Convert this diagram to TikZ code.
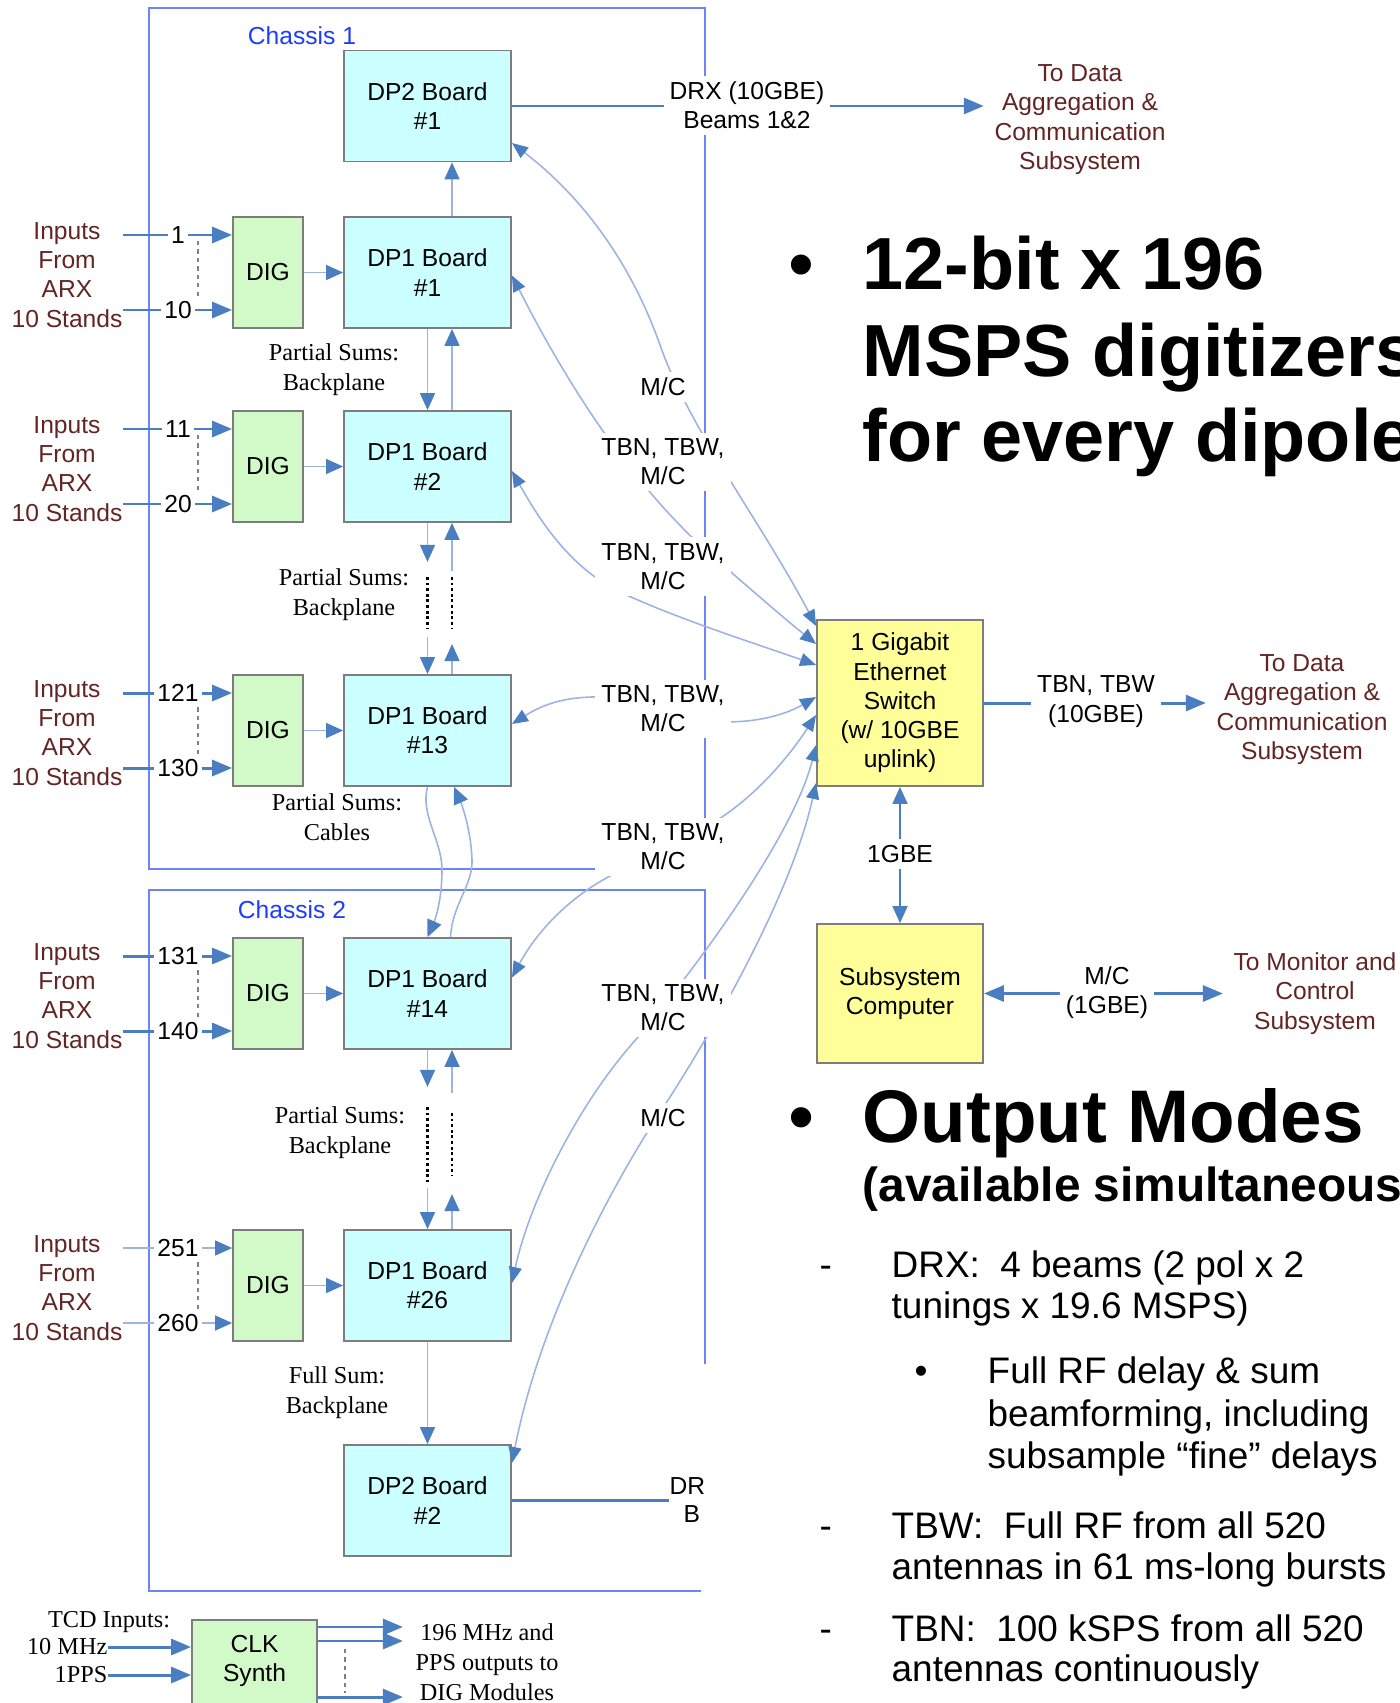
\documentclass[tikz,border=0pt]{standalone}
\usepackage{fontspec}
\setmainfont{Liberation Sans}
\newfontfamily\timesdp{Liberation Serif}
\usetikzlibrary{arrows.meta}
\definecolor{dpcyan}{RGB}{204,255,255}
\definecolor{diggreen}{RGB}{210,250,200}
\definecolor{swyellow}{RGB}{255,255,153}
\definecolor{boxgray}{RGB}{125,125,125}
\definecolor{arrowblue}{RGB}{74,126,193}
\definecolor{wireblue}{RGB}{155,180,226}
\definecolor{chasline}{RGB}{110,130,250}
\definecolor{chastxt}{RGB}{30,60,255}
\definecolor{arxred}{RGB}{99,37,35}
\newcommand\lblsize{\fontsize{7}{8.3}\selectfont}
\newcommand\sersize{\timesdp\fontsize{6.9}{8.5}\selectfont}

\begin{document}
\begin{tikzpicture}[x=0.01cm,y=-0.01cm,font=\lblsize,
  board/.style={draw=boxgray,line width=0.5pt,fill=dpcyan,minimum width=1.67cm,minimum height=1.11cm,align=center,inner sep=0},
  digbox/.style={board,fill=diggreen,minimum width=0.7cm},
  ylbox/.style={board,fill=swyellow,minimum width=1.66cm},
  lbl/.style={align=center,fill=white,inner sep=0.6mm},
  numlbl/.style={fill=white,inner sep=0.3mm},
  redtxt/.style={align=center,text=arxred,inner sep=0},
  sertxt/.style={font=\sersize,align=center,inner sep=0},
  thickline/.style={draw=arrowblue,line width=0.85pt},
  thickarrow/.style={thickline,-{Triangle[length=2mm,width=1.6mm]}},
  thickboth/.style={thickline,{Triangle[length=2mm,width=1.6mm]}-{Triangle[length=2mm,width=1.6mm]}},
  thinarrow/.style={draw=wireblue,line width=0.45pt,-{Triangle[length=1.7mm,width=1.5mm,color=arrowblue]}},
  wire/.style={draw=wireblue,line width=0.45pt,{Triangle[length=1.6mm,width=1.3mm,color=arrowblue]}-{Triangle[length=1.6mm,width=1.3mm,color=arrowblue]}},
  chassis/.style={draw=chasline,line width=0.6pt},
  dotline/.style={line width=0.7pt,dash pattern=on 0.8pt off 0.8pt},
  grayline/.style={draw=gray,line width=0.4pt,dash pattern=on 1.2pt off 1.2pt},
  headtxt/.style={font=\fontsize{21}{24}\selectfont\bfseries,anchor=base west,inner sep=0},
  bodytxt/.style={font=\fontsize{10.5}{12}\selectfont,anchor=base west,inner sep=0}]

\useasboundingbox (0,0) rectangle (1400,1703);

% chassis outlines
\draw[chassis] (149,8) rectangle (705,869);
\draw[chassis] (705,1364) -- (705,890) -- (149,890) -- (149,1591) -- (701,1591);
\node[text=chastxt] (ch1) at (302,36) {Chassis 1};
\node[text=chastxt] (ch2) at (292,910) {Chassis 2};

\node[board] (dpt1) at (427.5,106) {DP2 Board\\\#1};
\node[board] (dpt2) at (427.5,1500.5) {DP2 Board\\\#2};
\node[ylbox,minimum height=1.66cm] (sw) at (900,703) {1 Gigabit\\Ethernet\\Switch\\(w/ 10GBE\\uplink)};
\node[ylbox,minimum height=1.39cm] (pc) at (900,993.5) {Subsystem\\Computer};

% one DIG + DP1 row per group of 10 stands
\foreach \n/\yy/\ta/\tb/\st in {1/272.5/1/10/thickarrow,2/466.5/11/20/thickarrow,13/730.5/121/130/thickarrow,14/993.5/131/140/thickarrow,26/1285.5/251/260/thinarrow}{
  \node[digbox] (dig\n) at (268,\yy) {DIG};
  \node[board] (dpo\n) at (427.5,\yy) {DP1 Board\\\#\n};
  \node[redtxt] (arx\n) at (67,\yy+2.5) {Inputs\\From\\ARX\\10 Stands};
  \draw[\st] (arx\n.east |- 0,\yy-37.5) -- (dig\n.west |- 0,\yy-37.5);
  \draw[\st] (arx\n.east |- 0,\yy+37.5) -- (dig\n.west |- 0,\yy+37.5);
  \draw[grayline] (198,\yy-31.5) -- (198,\yy+23.5);
  \node[numlbl] (na\n) at (178,\yy-37.5) {\ta};
  \node[numlbl] (nb\n) at (178,\yy+37.5) {\tb};
  \draw[thinarrow] (dig\n) -- (dpo\n);
}

% partial sums
\draw[thinarrow] ([xshift=2.45mm]dpo1.north) -- ([xshift=2.45mm]dpt1.south);
\draw[thinarrow] (dpo1.south) -- (dpo2.north);
\draw[thinarrow] ([xshift=2.45mm]dpo2.north) -- ([xshift=2.45mm]dpo1.south);
\draw[thinarrow] (dpo2.south) -- ++(0,39);
\draw[thinarrow] ([xshift=2.45mm,yshift=-4.8mm]dpo2.south) -- ([xshift=2.45mm]dpo2.south);
\draw[dotline] ([yshift=-5.4mm]dpo2.south) -- ++(0,51);
\draw[dotline] ([xshift=2.45mm,yshift=-5.4mm]dpo2.south) -- ++(0,51);
\draw[thinarrow] ([yshift=3.7mm]dpo13.north) -- (dpo13.north);
\draw[thinarrow] ([xshift=2.45mm]dpo13.north) -- ++(0,-30);
\draw[thinarrow] (dpo13.south) .. controls (420,815) and (442,840) .. (442,870) .. controls (442,900) and (435,920) .. (dpo14.north);
\draw[thinarrow] ([xshift=2.3mm]dpo14.north) .. controls (452,905) and (473,885) .. (472,860) .. controls (471,830) and (462,805) .. ([xshift=2.65mm]dpo13.south);
\draw[thinarrow] (dpo14.south) -- ++(0,37);
\draw[thinarrow] ([xshift=2.45mm,yshift=-4.3mm]dpo14.south) -- ([xshift=2.45mm]dpo14.south);
\draw[dotline] ([yshift=-5.7mm]dpo14.south) -- ++(0,75);
\draw[dotline] ([xshift=2.45mm,yshift=-6.3mm]dpo14.south) -- ++(0,63);
\draw[thinarrow] ([yshift=4.1mm]dpo26.north) -- (dpo26.north);
\draw[thinarrow] ([xshift=2.45mm]dpo26.north) -- ++(0,-35);
\draw[thinarrow] (dpo26) -- (dpt2);

\node[sertxt] (ps1) at (334,370) {Partial Sums:\\Backplane};
\node[sertxt] (ps2) at (344,594.5) {Partial Sums:\\Backplane};
\node[sertxt] (ps3) at (337,817) {Partial Sums:\\Cables};
\node[sertxt] (ps4) at (340,1133) {Partial Sums:\\Backplane};
\node[sertxt] (fs) at (337,1393) {Full Sum:\\Backplane};

% links to the switch
\draw[wire] ([yshift=-3.7mm]dpt1.east) .. controls (580,195) and (630,260) .. (660,345) .. controls (690,430) and (760,520) .. ([yshift=7.7mm]sw.west);
\draw[wire] ([yshift=-0.3mm]dpo1.east) .. controls (560,370) and (620,470) .. (700,545) .. controls (740,580) and (780,615) .. ([yshift=5.9mm]sw.west);
\draw[wire] ([yshift=-0.45mm]dpo2.east) .. controls (545,530) and (575,570) .. (620,592) .. controls (680,620) and (760,645) .. ([yshift=3.8mm]sw.west);
\draw[wire] ([yshift=0.65mm]dpo13.east) .. controls (550,700) and (575,696) .. (610,697) .. controls (660,698) and (680,722) .. (725,722) .. controls (765,722) and (790,712) .. ([yshift=0.6mm]sw.west);
\draw[wire] ([yshift=1.6mm]dpo14.east) .. controls (535,935) and (565,900) .. (610,876) .. controls (650,855) and (690,838) .. (722,817) .. controls (762,790) and (792,752) .. ([yshift=-1.2mm]sw.west);
\draw[wire] ([yshift=0.25mm]dpo26.east) .. controls (530,1200) and (580,1100) .. (640,1035) .. controls (710,950) and (795,830) .. ([yshift=-4.2mm]sw.west);
\draw[wire] ([yshift=3.75mm]dpt2.east) .. controls (540,1320) and (610,1190) .. (655,1120) .. controls (705,1045) and (790,900) .. ([yshift=-8mm]sw.west);

\node[lbl] (mc1) at (663,387) {M/C};
\foreach \k/\yy in {1/462,2/566.5,3/709,4/847,5/1008}
  \node[lbl] (tb\k) at (663,\yy) {TBN, TBW,\\M/C};
\node[lbl] (mc2) at (663,1118) {M/C};

% outputs
\node[redtxt,inner sep=1mm] (todata1) at (1080,119.5) {To Data\\Aggregation \&\\Communication\\Subsystem};
\node[redtxt,inner sep=1mm] (todata2) at (1302,709.5) {To Data\\Aggregation \&\\Communication\\Subsystem};
\node[redtxt,inner sep=1mm] (tomc) at (1315,993.5) {To Monitor and\\Control\\Subsystem};
\draw[thickarrow] (dpt1.east) -- (dpt1.east -| todata1.west);
\node[lbl] (drx1) at (747,105.5) {DRX (10GBE)\\Beams 1\&2};
\node[anchor=west,inner sep=0] (drx2a) at (669,1486) {DR};
\node[anchor=west,inner sep=0] (drx2b) at (683,1514) {B};
\draw[thickline] (dpt2.east) -- (drx2a.west |- dpt2.east);
\draw[thickarrow] (sw.east) -- (sw.east -| todata2.west);
\node[lbl] (tbout) at (1096,701.5) {TBN, TBW\\(10GBE)};
\draw[draw=arrowblue,line width=0.5pt,{Triangle[length=1.7mm,width=1.5mm]}-{Triangle[length=1.7mm,width=1.5mm]}] (sw.south) -- (pc.north);
\node[lbl] (gbe) at (900,854) {1GBE};
\draw[thickboth] (pc.east) -- (pc.east -| tomc.west);
\node[lbl] (mcout) at (1107,993) {M/C\\(1GBE)};

% clock synthesizer
\node[digbox,minimum width=1.25cm,minimum height=1cm] (clk) at (254.5,1670) {};
\node (clklbl) at (254.5,1661) [align=center] {CLK\\Synth};
\node[sertxt] (tcd) at (109,1622) {TCD Inputs:};
\node[sertxt,anchor=east] (tenmhz) at (108,1647) {10 MHz};
\node[sertxt,anchor=east] (pps) at (108,1675) {1PPS};
\draw[thickarrow] (tenmhz.east) -- (clk.west |- tenmhz.east);
\draw[thickarrow] (pps.east) -- (clk.west |- pps.east);
\draw[thickarrow] ([yshift=4.3mm]clk.east) -- ++(85,0);
\draw[thickarrow] ([yshift=2.9mm]clk.east) -- ++(85,0);
\draw[thickarrow] ([yshift=-2.7mm]clk.east) -- ++(85,0);
\draw[grayline] (345,1649) -- (345,1693);
\node[sertxt] (clkout) at (487,1662) {196 MHz and\\PPS outputs to\\DIG Modules};

% slide text
\node[headtxt,font=\fontsize{21}{24}\selectfont] (hb1) at (788,290) {•};
\node[headtxt] (hd1) at (862,290) {12-bit x 196};
\node[headtxt] (hd2) at (862,376) {MSPS digitizers};
\node[headtxt] (hd3) at (862,461) {for every dipole};
\node[headtxt,font=\fontsize{21.2}{25}\selectfont] (hb2) at (788,1142) {•};
\node[headtxt,font=\fontsize{21.2}{25}\selectfont\bfseries] (hd4) at (862,1142) {Output Modes};
\node[headtxt,font=\fontsize{13.6}{16}\selectfont\bfseries] (hd5) at (862,1201) {(available simultaneous};
\node[bodytxt] (d1) at (819,1277) {-};
\node[bodytxt] (b1) at (891,1277) {DRX:\ \ 4 beams (2 pol x 2};
\node[bodytxt] (b2) at (891,1318) {tunings x 19.6 MSPS)};
\node[bodytxt] (sb) at (914,1383) {•};
\node[bodytxt] (b3) at (987,1383) {Full RF delay \& sum};
\node[bodytxt] (b4) at (987,1426) {beamforming, including};
\node[bodytxt] (b5) at (987,1468) {subsample “fine” delays};
\node[bodytxt] (d2) at (819,1538) {-};
\node[bodytxt] (b6) at (891,1538) {TBW:\ \ Full RF from all 520};
\node[bodytxt] (b7) at (891,1579) {antennas in 61 ms-long bursts};
\node[bodytxt] (d3) at (819,1641) {-};
\node[bodytxt] (b8) at (891,1641) {TBN:\ \ 100 kSPS from all 520};
\node[bodytxt] (b9) at (891,1681) {antennas continuously};
\end{tikzpicture}
\end{document}
